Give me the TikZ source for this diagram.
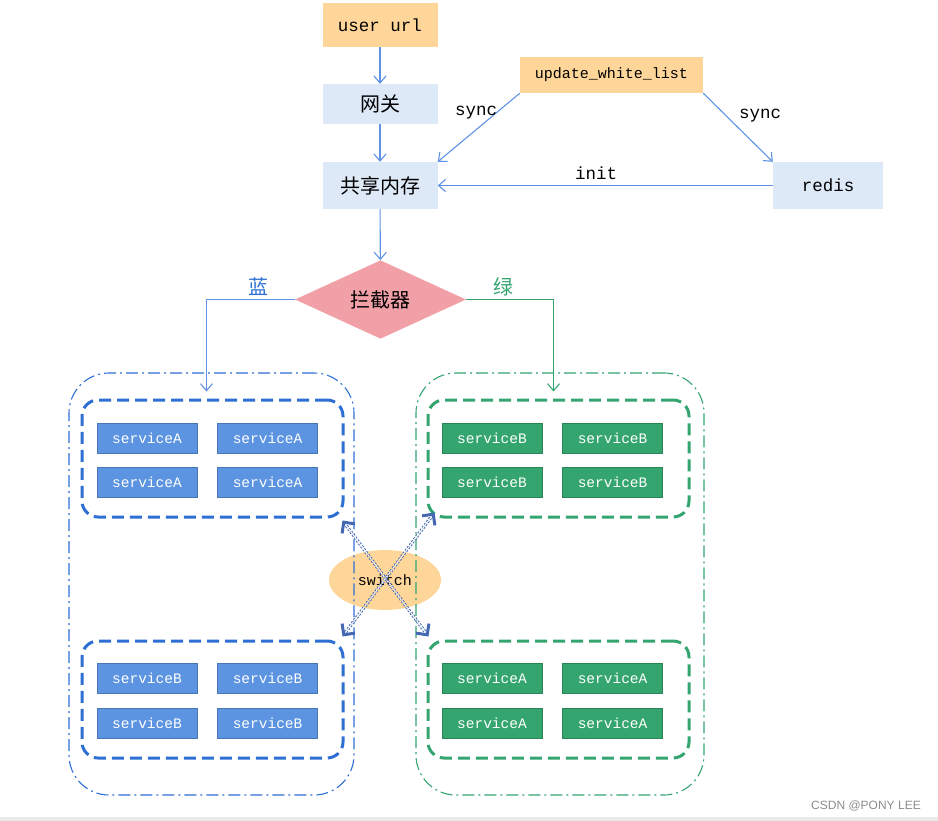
\documentclass[tikz,border=0pt]{standalone}
\usepackage{fontspec}
\setmainfont{Liberation Mono}
\newfontfamily\cjk{Noto Sans CJK SC}
\newfontfamily\wmfont{Liberation Sans}
\usetikzlibrary{shapes.geometric,positioning,arrows.meta}

\definecolor{flowblue}{RGB}{96,146,228}
\definecolor{paleblue}{RGB}{222,233,248}
\definecolor{paleorange}{RGB}{255,214,153}
\definecolor{gatepink}{RGB}{242,160,168}
\definecolor{teamblue}{RGB}{46,111,211}
\definecolor{teamgreen}{RGB}{52,165,112}
\definecolor{svcblue}{RGB}{92,148,226}
\definecolor{svcgreen}{RGB}{52,165,110}
\definecolor{crossblue}{RGB}{70,104,178}

\begin{document}
\begin{tikzpicture}[
        x=1pt, y=-1pt,
        font=\fontsize{17.5}{20}\selectfont,
        >={Straight Barb[length=7pt,width=12pt]},
        box/.style={fill=#1, minimum width=115pt, minimum height=44pt, inner sep=0pt},
        cn/.style={font=\cjk\fontsize{20}{24}\selectfont},
        flow/.style={draw=flowblue, line width=1.1pt},
        group/.style={draw=#1, line width=1.1pt, rounded corners=40pt,
            dash pattern=on 12pt off 4pt on 2pt off 4pt},
        pool/.style={draw=#1, line width=3pt, rounded corners=16pt,
            dash pattern=on 12pt off 6pt},
        svc/.style={fill=#1, draw=#1!80!black, line width=0.6pt, text=white,
            minimum width=100pt, minimum height=30pt, inner sep=0pt,
            font=\fontsize{14.5}{16}\selectfont},
        swapline/.style={draw=crossblue, line width=1pt, double=white,
            double distance=1.2pt, dash pattern=on 2pt off 1.6pt,
            shorten <=3pt, shorten >=3pt},
        swaptip/.style={tips, color=crossblue,
            {Straight Barb[length=8pt,width=16pt,line width=3pt]}-{Straight Barb[length=8pt,width=16pt,line width=3pt]}}
    ]
        \useasboundingbox (0,0) rectangle (938,821);

        % Request path
        \node[box=paleorange] (url) at (380,25) {user url};
        \node[box=paleblue, cn, minimum height=40pt] (gw) at (380,104) {网关};
        \node[box=paleblue, cn, minimum height=47pt] (shm) at (380,185.5) {共享内存};
        \node[box=paleorange, minimum width=183pt, minimum height=36pt,
            font=\fontsize{15}{18}\selectfont] (upd) at (611.5,75) {update\_white\_list};
        \node[box=paleblue, minimum width=110pt, minimum height=47pt] (redis) at (828,185.5) {redis};

        \draw[flow,->] (url) -- (gw);
        \draw[flow,->] (gw) -- (shm);
        \draw[flow,->] (upd.south west) -- (shm.north east);
        \draw[flow,->] (upd.south east) -- (redis.north west);
        \draw[flow,->] (redis.west) -- (shm.east);

        \node (sync1) at (476,113) {sync};
        \node (sync2) at (760,116) {sync};
        \node (init) at (596,173) {init};

        % Interceptor
        \node[diamond, fill=gatepink, cn, minimum width=171pt, minimum height=73pt,
            inner sep=0pt] (gate) at (380.5,299.5) {拦截器};
        \draw[flow,->] (shm) -- (gate);

        % Switch (under the groups)
        \node[ellipse, fill=paleorange, minimum width=112pt, minimum height=60pt,
            font=\fontsize{15}{18}\selectfont] (switch) at (385,580) {switch};

        % Blue and green groups
        \node[group=teamblue, minimum width=285pt, minimum height=422pt] (blue) at (211.5,584) {};
        \node[group=teamgreen, minimum width=288pt, minimum height=422pt] (green) at (560,584) {};

        \node[pool=teamblue, minimum width=261pt, minimum height=117pt] (blueTop) at (212.5,458.5) {};
        \node[pool=teamblue, minimum width=261pt, minimum height=117pt] (blueBot) at (212.5,699.5) {};
        \node[pool=teamgreen, minimum width=261pt, minimum height=117pt] (greenTop) at (558.5,458.5) {};
        \node[pool=teamgreen, minimum width=261pt, minimum height=117pt] (greenBot) at (558.5,699.5) {};

        \draw[flow,->] (gate.west) -| ([xshift=-6pt,yshift=7pt]blueTop.north);
        \draw[draw=teamgreen, line width=1.1pt,->] (gate.east) -| ([xshift=-5pt,yshift=7pt]greenTop.north);
        \node[cn, text=teamblue] (blueLab) at (258,287) {蓝};
        \node[cn, text=teamgreen] (greenLab) at (503,287) {绿};

        % Services
        \node[svc=svcblue] (bt1) at (147,438) {serviceA};
        \node[svc=svcblue, right=20pt of bt1] (bt2) {serviceA};
        \node[svc=svcblue, below=14pt of bt1] (bt3) {serviceA};
        \node[svc=svcblue, right=20pt of bt3] (bt4) {serviceA};

        \node[svc=svcblue] (bb1) at (147,678) {serviceB};
        \node[svc=svcblue, right=20pt of bb1] (bb2) {serviceB};
        \node[svc=svcblue, below=15pt of bb1] (bb3) {serviceB};
        \node[svc=svcblue, right=20pt of bb3] (bb4) {serviceB};

        \node[svc=svcgreen] (gt1) at (492,438) {serviceB};
        \node[svc=svcgreen, right=20pt of gt1] (gt2) {serviceB};
        \node[svc=svcgreen, below=14pt of gt1] (gt3) {serviceB};
        \node[svc=svcgreen, right=20pt of gt3] (gt4) {serviceB};

        \node[svc=svcgreen] (gb1) at (492,678) {serviceA};
        \node[svc=svcgreen, right=20pt of gb1] (gb2) {serviceA};
        \node[svc=svcgreen, below=15pt of gb1] (gb3) {serviceA};
        \node[svc=svcgreen, right=20pt of gb3] (gb4) {serviceA};

        % Switch-over
        \coordinate (swA) at ([xshift=-2pt,yshift=-2pt]blueTop.south east);
        \coordinate (swB) at ([xshift=2pt,yshift=3pt]greenBot.north west);
        \coordinate (swC) at ([xshift=8pt,yshift=6pt]greenTop.south west);
        \coordinate (swD) at ([xshift=-2pt,yshift=3pt]blueBot.north east);
        \draw[swapline] (swA) -- (swB);
        \draw[swapline] (swC) -- (swD);
        \path[swaptip] (swA) -- (swB);
        \path[swaptip] (swC) -- (swD);

        % Watermark
        \fill[black!8] (0,817) rectangle (938,821);
        \node[text=black!45, font=\wmfont\fontsize{12}{14}\selectfont] (mark) at (866,806) {CSDN @PONY LEE};
    \end{tikzpicture}
\end{document}
